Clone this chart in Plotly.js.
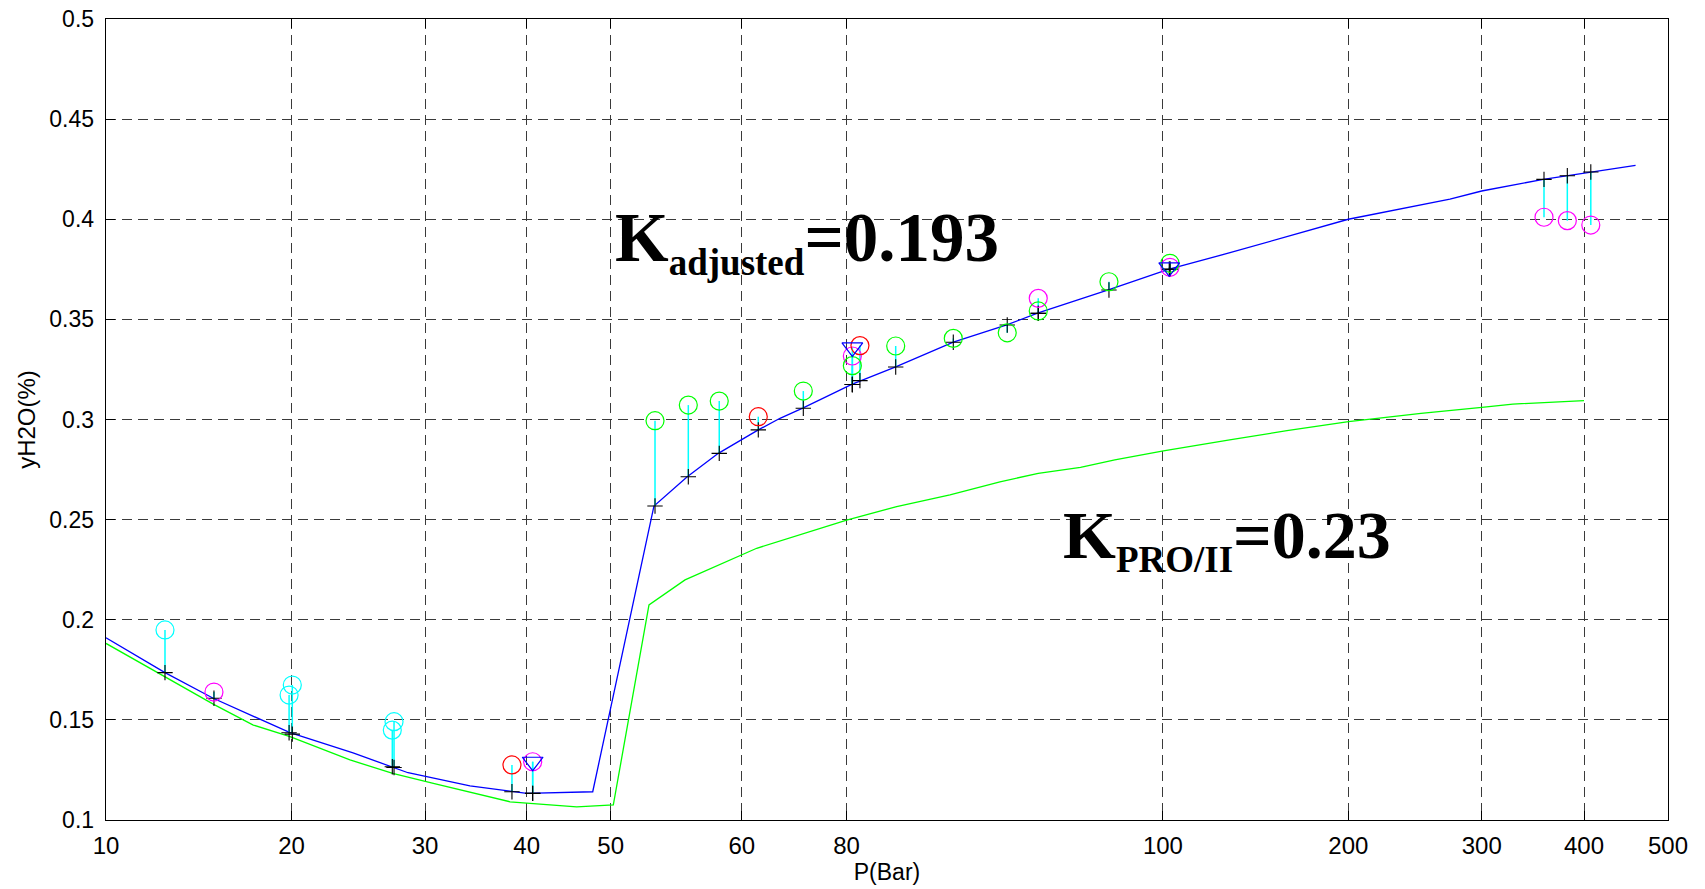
<!DOCTYPE html>
<html><head><meta charset="utf-8">
<script src="https://cdn.plot.ly/plotly-3.0.1.min.js"></script>
<style>html,body{margin:0;padding:0;background:#fff;}</style>
</head><body>
<div id="chart" style="width:1705px;height:889px;"></div>
<script>
// ---- x-axis scale: pressure tick labels and where each sits along the (non-standard) axis, in axis units 0..100
const tickP = [10, 20, 30, 40, 50, 60, 80, 100, 200, 300, 400, 500];
const tickU = [0, 11.876, 20.423, 26.934, 32.311, 40.704, 47.407, 67.664, 79.533, 88.073, 94.622, 100];
const yTickVals = [0.1, 0.15, 0.2, 0.25, 0.3, 0.35, 0.4, 0.45, 0.5];
const yTickText = ['0.1', '0.15', '0.2', '0.25', '0.3', '0.35', '0.4', '0.45', '0.5'];

// ---- model curves
const adjP = [10, 13.18, 15.78, 19.92, 24.61, 28.73, 34.42, 40, 47.86, 53.30, 55.84, 58.21, 63.15, 67.30, 71.63, 80.33, 83.07, 86.75, 90.13, 92.12, 96.55, 102.9, 136.2, 200, 276.2, 300, 360.2, 407.2, 461.4];
const adjY = [0.1910, 0.1736, 0.1608, 0.1436, 0.1335, 0.1236, 0.1170, 0.1133, 0.1141, 0.2568, 0.2714, 0.2831, 0.2948, 0.3006, 0.3057, 0.3175, 0.3262, 0.3386, 0.3472, 0.3533, 0.3647, 0.3750, 0.3833, 0.4000, 0.4101, 0.4141, 0.4199, 0.4236, 0.4269];
const proP = [10, 13.18, 15.78, 17.94, 19.92, 24.38, 27.58, 30.82, 38.36, 40.39, 45.95, 50.20, 52.92, 55.67, 62.85, 80.01, 83.17, 86.54, 89.70, 92.12, 94.79, 96.96, 100.3, 136.0, 166.9, 200.2, 254.5, 300.1, 330.4, 400];
const proY = [0.1882, 0.1713, 0.1579, 0.1474, 0.1416, 0.1300, 0.1233, 0.1183, 0.1091, 0.1083, 0.1066, 0.1075, 0.2074, 0.2199, 0.2357, 0.2498, 0.2565, 0.2623, 0.2689, 0.2731, 0.2761, 0.2798, 0.2843, 0.2898, 0.2944, 0.2989, 0.3031, 0.3061, 0.3077, 0.3094];

// ---- experimental sets: pressure, measured yH2O, model prediction at that pressure
const cyanP = [13.18, 19.87, 20.06, 27.55, 27.68];
const cyanY = [0.1949, 0.1624, 0.1674, 0.1449, 0.1491];
const cyanM = [0.1736, 0.1436, 0.1429, 0.1266, 0.1262];

const magentaP = [15.82, 40.71, 80.37, 92.12, 103.8, 360.9, 383.7, 408.1];
const magentaY = [0.1639, 0.1291, 0.3317, 0.3605, 0.3760, 0.4010, 0.3993, 0.3971];
const magentaM = [0.1608, 0.1133, 0.3175, 0.3530, 0.3750, 0.4199, 0.4217, 0.4236];

const redP = [38.55, 63.15, 80.85];
const redY = [0.1275, 0.3014, 0.3369];
const redM = [0.1141, 0.2948, 0.3194];

const greenP = [53.38, 55.92, 58.28, 71.75, 80.37, 83.11, 86.75, 90.16, 92.12, 96.59, 103.8];
const greenY = [0.2994, 0.3072, 0.3092, 0.3142, 0.3269, 0.3367, 0.3405, 0.3433, 0.3542, 0.3688, 0.3780];
const greenM = [0.2568, 0.2714, 0.2831, 0.3056, 0.3175, 0.3262, 0.3386, 0.3472, 0.3530, 0.3647, 0.3750];

const triP = [40.71, 80.37, 103.4];
const triY = [0.1291, 0.3360, 0.3760];
const triM = [0.1133, 0.3175, 0.3750];

// map a pressure onto the axis, interpolating between the labelled ticks
function warp(p) {
  for (let i = 0; i < tickP.length - 1; i++) {
    if (p <= tickP[i + 1]) {
      return tickU[i] + (p - tickP[i]) / (tickP[i + 1] - tickP[i]) * (tickU[i + 1] - tickU[i]);
    }
  }
  return tickU[tickU.length - 1];
}
const W = a => a.map(warp);

const sets = [
  {P: cyanP, Y: cyanY, M: cyanM, color: '#00FFFF', symbol: 'circle-open'},
  {P: magentaP, Y: magentaY, M: magentaM, color: '#FF00FF', symbol: 'circle-open'},
  {P: redP, Y: redY, M: redM, color: '#FF0000', symbol: 'circle-open'},
  {P: greenP, Y: greenY, M: greenM, color: '#00FF00', symbol: 'circle-open'},
  {P: triP, Y: triY, M: triM, color: '#0000FF', symbol: 'triangle-down-open'}
];

const traces = [];
traces.push({x: W(proP), y: proY, mode: 'lines', line: {color: '#00FF00', width: 1.3}, hoverinfo: 'skip'});
traces.push({x: W(adjP), y: adjY, mode: 'lines', line: {color: '#0000FF', width: 1.3}, hoverinfo: 'skip'});

// residual stems
const sx = [], sy = [];
sets.forEach(s => s.P.forEach((p, i) => { sx.push(warp(p), warp(p), null); sy.push(s.Y[i], s.M[i], null); }));
traces.push({x: sx, y: sy, mode: 'lines', line: {color: '#00FFFF', width: 1.5}, hoverinfo: 'skip'});

// model predictions (+)
const px = [], py = [];
sets.forEach(s => s.P.forEach((p, i) => { px.push(warp(p)); py.push(s.M[i]); }));
traces.push({x: px, y: py, mode: 'markers', marker: {symbol: 'cross-thin', size: 11, line: {color: '#000', width: 1.1}}, hoverinfo: 'skip'});

// measurements
sets.forEach(s => traces.push({
  x: W(s.P), y: s.Y, mode: 'markers',
  marker: {symbol: s.symbol, size: 18, color: s.color, line: {color: s.color, width: 1.2}}
}));

const sansN = "'Liberation Sans Narrow','Arial Narrow','Liberation Sans',Arial,sans-serif";
const sans = "'Liberation Sans',Arial,sans-serif";
const serif = "'Liberation Serif','Times New Roman',serif";

const layout = {
  width: 1705, height: 889,
  margin: {l: 106, r: 37, t: 19, b: 69},
  paper_bgcolor: '#fff', plot_bgcolor: '#fff',
  showlegend: false,
  font: {family: sans, color: '#000'},
  xaxis: {
    range: [0, 100], tickmode: 'array', tickvals: tickU, ticktext: tickP.map(String),
    showgrid: true, gridcolor: '#3a3a3a', gridwidth: 1, griddash: '10px,6px',
    ticks: 'inside', ticklen: 9, tickcolor: '#000', tickwidth: 1,
    showline: true, linecolor: '#000', linewidth: 1.3, mirror: 'ticks', zeroline: false,
    tickfont: {family: sansN, size: 24, color: '#000'}, ticklabelstandoff: 4,
    title: {text: 'P(Bar)', font: {family: sans, size: 23, color: '#000'}, standoff: 4}
  },
  yaxis: {
    range: [0.1, 0.5], tickmode: 'array', tickvals: yTickVals, ticktext: yTickText,
    showgrid: true, gridcolor: '#3a3a3a', gridwidth: 1, griddash: '10px,6px',
    ticks: 'inside', ticklen: 9, tickcolor: '#000', tickwidth: 1,
    showline: true, linecolor: '#000', linewidth: 1.3, mirror: 'ticks', zeroline: false,
    tickfont: {family: sans, size: 23, color: '#000'}, ticklabelstandoff: 6,
    title: {text: 'yH2O(%)', font: {family: sans, size: 24, color: '#000'}, standoff: 7}
  },
  shapes: [
    {type: 'rect', xref: 'paper', yref: 'paper', x0: 0.3182, x1: 0.5896, y0: 0.6554, y1: 0.7865, fillcolor: '#fff', line: {width: 0}, layer: 'between'},
    {type: 'rect', xref: 'paper', yref: 'paper', x0: 0.5941, x1: 0.8675, y0: 0.2996, y1: 0.4307, fillcolor: '#fff', line: {width: 0}, layer: 'between'}
  ],
  annotations: [
    {xref: 'paper', yref: 'paper', x: 0.3246, y: 0.7216, xanchor: 'left', yanchor: 'middle', showarrow: false,
     text: "K<sub><span style='font-size:37px'>adjusted</span></sub>=0.193",
     font: {family: serif, size: 69, weight: 'bold', color: '#000'}},
    {xref: 'paper', yref: 'paper', x: 0.6111, y: 0.352, xanchor: 'left', yanchor: 'middle', showarrow: false,
     text: "K<sub><span style='font-size:37px'>PRO/II</span></sub>=0.23",
     font: {family: serif, size: 68, weight: 'bold', color: '#000'}}
  ]
};

Plotly.newPlot('chart', traces, layout, {staticPlot: true, displayModeBar: false});
</script>
</body></html>
